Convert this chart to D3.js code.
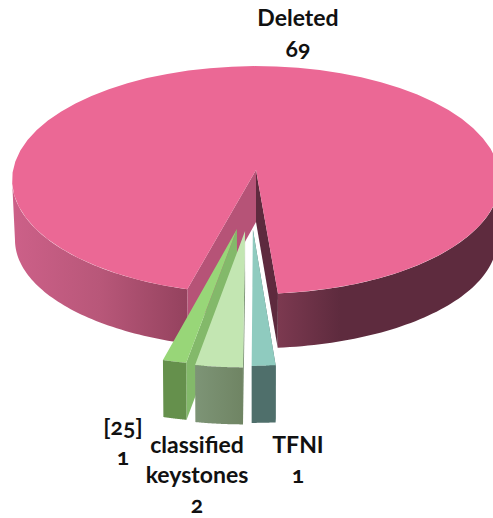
<!DOCTYPE html>
<html>
<head>
<meta charset="utf-8">
<script src="https://cdn.jsdelivr.net/npm/d3@7"></script>
<style>
html,body{margin:0;padding:0;background:#fff;}
svg{display:block;}
text{font-family:Lato,"Open Sans",sans-serif;font-weight:700;font-size:23px;fill:#111;text-anchor:middle;font-variant-numeric:oldstyle-nums;font-feature-settings:"onum" 1;}
</style>
</head>
<body>
<svg id="chart" width="493" height="518"></svg>
<script>
// Data
const categories = ["Deleted", "TFNI", "classified keystones", "[25]"];
const values = [69, 1, 2, 1];

// Styles and layout, kept apart from the data
const topColors = ["#eb6895", "#8fcbbf", "#c3e6b2", "#98d678"];
const frontColors = [null, "#4f6f6b", "url(#lgFront)", "#65904c"];
const sideColors = [null, "#4f6f6b", "#7d9476", "#83b96a"];
const explodeU = [0, -0.012, -0.043, -0.075];
const explodeV = [0, 0.505, 0.515, 0.5];
const labelCx = [298, 298, 197, 123];
const labelTop = [26, 453, 453, 435];
const labelGap = [31, 30, 30, 30];

const W = 493, H = 518;
const cx = 256, cy = 170, R = 243, B = 113, K = 0.0876;
const toRad = Math.PI / 180;

// Perspective model of a disk: angle -> screen, with zero at the back and going clockwise.
function project(u, v, q, qx, drop) {
  const s = 1 / (1 - K * v);
  return [cx + R * u * s * qx, cy + B * v * s * q + drop];
}
const rimU = a => Math.sin(a);
const rimV = a => -Math.cos(a);

const pie = d3.pie().sort(null).startAngle(195 * toRad).endAngle((195 + 360) * toRad);
const arcs = pie(values);

const svg = d3.select("#chart");
const defs = svg.append("defs");
function gradient(id, stops) {
  const g = defs.append("linearGradient").attr("id", id)
    .attr("gradientUnits", "userSpaceOnUse")
    .attr("x1", 0).attr("x2", W).attr("y1", 0).attr("y2", 0);
  stops.forEach(([x, c]) => g.append("stop").attr("offset", x / W).attr("stop-color", c));
}
gradient("wall", [[15, "#cc6088"], [100, "#b85779"], [188, "#94425e"], [278, "#7c3950"], [340, "#5e2b3e"], [493, "#5e2b3e"]]);
gradient("lgFront", [[196, "#7d9476"], [244, "#6f8463"]]);

const line = d3.line();
const sampleAngles = (a0, a1) => d3.range(0, 61).map(i => a0 + (a1 - a0) * i / 60);
const poly = (pts, fill) => svg.append("path").attr("d", line(pts) + "Z").attr("fill", fill);

// Main slice
const main = arcs[0];
const mainAngles = sampleAngles(main.startAngle, main.endAngle);
const bottomMain = a => project(rimU(a), rimV(a), 0.95, 0.988, 60.5);
const topMain = a => project(rimU(a), rimV(a), 1, 1, 0);

// Outer wall: only the two stretches that face the viewer, closed at the silhouette
const leftSpan = sampleAngles(main.startAngle, 265 * toRad);
const rightSpan = sampleAngles(455 * toRad, main.endAngle);
[leftSpan, rightSpan].forEach(span => {
  poly(span.map(topMain).concat(span.map(bottomMain).reverse()), "url(#wall)");
});
const apexTop = project(0, 0, 1, 1, 0);
const apexBottom = project(0, 0, 1, 1, 52);
poly([apexTop, topMain(main.startAngle), bottomMain(main.startAngle), apexBottom], "#b65377");
poly([apexTop, topMain(main.endAngle), bottomMain(main.endAngle), apexBottom], "#5e2a3e");
poly([apexTop].concat(mainAngles.map(topMain)), topColors[0]);

// Pulled-out slices, drawn from the far left one to the right
[3, 2, 1].forEach(i => {
  const d = arcs[i];
  const u0 = explodeU[i], v0 = explodeV[i];
  const angles = sampleAngles(d.startAngle, d.endAngle);
  const up = (u, v) => project(u, v, 1, 1, 0);
  const down = (u, v) => project(u, v, 1, 0.995, 57);
  const topRim = angles.map(a => up(u0 + rimU(a), v0 + rimV(a)));
  const botRim = angles.map(a => down(u0 + rimU(a), v0 + rimV(a)));
  const a = d.startAngle;
  poly([up(u0, v0), up(u0 + rimU(a), v0 + rimV(a)), down(u0 + rimU(a), v0 + rimV(a)), down(u0, v0)], sideColors[i]);
  poly([up(u0, v0)].concat(topRim), topColors[i]);
  poly(topRim.concat(botRim.slice().reverse()), frontColors[i]);
});

// Labels
categories.forEach((name, i) => {
  const lines = name.split(" ").concat(String(values[i]));
  svg.append("g").selectAll("text").data(lines).join("text")
    .attr("x", labelCx[i])
    .attr("y", (_, j) => labelTop[i] + j * labelGap[i])
    .text(t => t);
});
</script>
</body>
</html>
